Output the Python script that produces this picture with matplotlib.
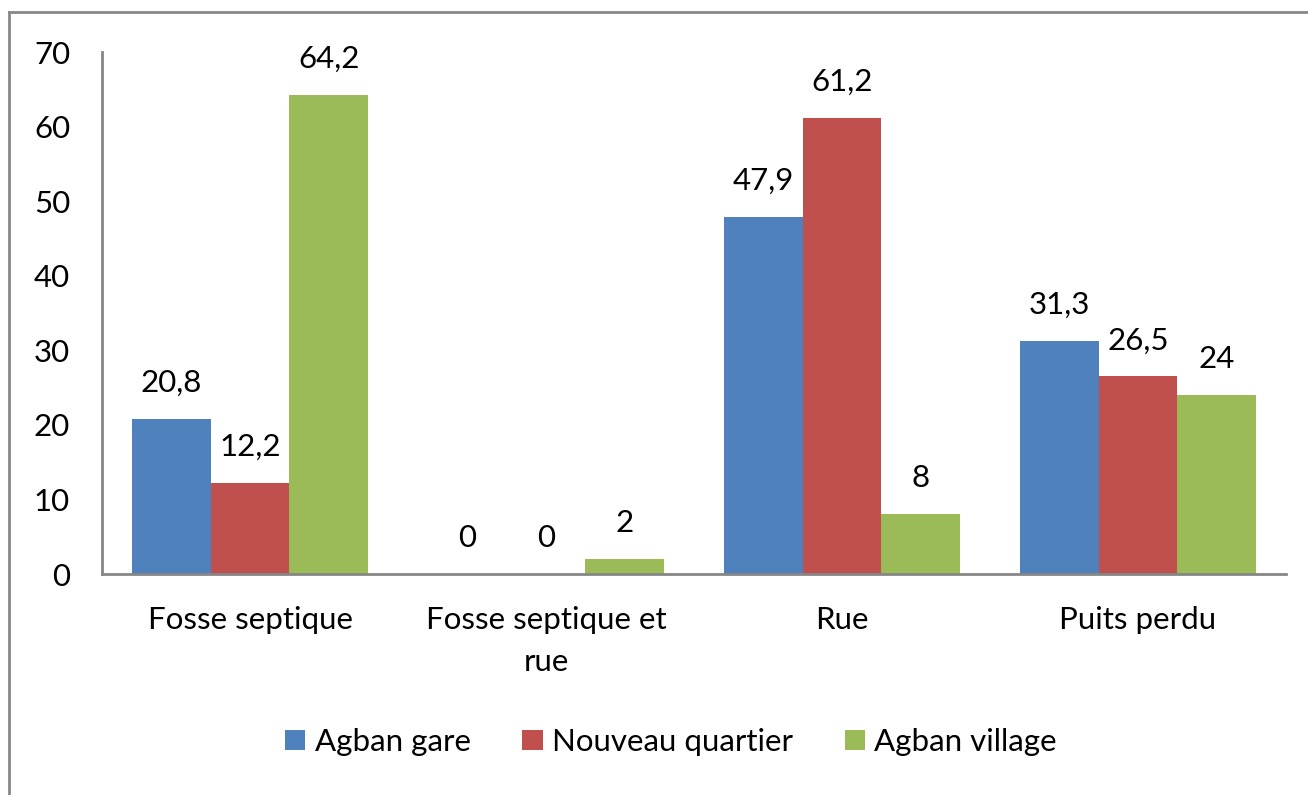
import matplotlib
matplotlib.use("Agg")
import matplotlib.pyplot as plt
from matplotlib.lines import Line2D
import numpy as np

categories = ["Fosse septique", "Fosse septique et\nrue", "Rue", "Puits perdu"]
series_names = ["Agban gare", "Nouveau quartier", "Agban village"]
agban_gare = [20.8, 0, 47.9, 31.3]
nouveau_quartier = [12.2, 0, 61.2, 26.5]
agban_village = [64.2, 2, 8, 24]
y_ticks = [0, 10, 20, 30, 40, 50, 60, 70]

colors = ["#4F81BD", "#C0504D", "#9BBB59"]
plt.rcParams['font.family'] = ['Lato', 'DejaVu Sans']
FS = 22.5

W, H = 1308, 795
fig = plt.figure(figsize=(W / 100, H / 100), dpi=100)
ax = fig.add_axes([102 / W, 1 - 574 / H, 1184 / W, 522 / H])

x = np.arange(len(categories))
bw = 0.8 / 3
all_series = [agban_gare, nouveau_quartier, agban_village]


def fmt(v):
    if float(v).is_integer():
        return str(int(v))
    return ("%.1f" % v).replace(".", ",")


for i, (vals, name) in enumerate(zip(all_series, series_names)):
    pos = x + (i - 1) * bw
    ax.bar(pos, vals, width=bw, color=colors[i], label=name, linewidth=0)
    for px, v in zip(pos, vals):
        ax.annotate(fmt(v), (px, v), xytext=(0, 19.5), textcoords="offset points",
                    ha="center", va="baseline", fontsize=FS, color="#000000")

ax.set_xlim(-0.5, len(categories) - 0.5)
ax.set_ylim(0, 70)
ax.set_yticks(y_ticks)
ax.set_yticklabels([str(t) for t in y_ticks], fontsize=FS)
ax.set_xticks(x)
ax.set_xticklabels(categories, fontsize=FS, linespacing=1.6)
ax.tick_params(axis="y", length=0, pad=23)
ax.tick_params(axis="x", length=0, pad=23)
for s in ["top", "right"]:
    ax.spines[s].set_visible(False)
for s in ["left", "bottom"]:
    ax.spines[s].set_color("#868686")
    ax.spines[s].set_linewidth(2)

fig.legend(loc="center", bbox_to_anchor=(671 / W, 1 - 742 / H), ncol=3, frameon=False,
           fontsize=FS, handlelength=0.65, handleheight=0.65, handletextpad=0.3,
           columnspacing=1.65)

# outer chart border (partially cropped)
fig.add_artist(Line2D([9 / W, 9 / W], [0, 1 - 12 / H], transform=fig.transFigure,
                      color="#888888", linewidth=2))
fig.add_artist(Line2D([9 / W, 1], [1 - 12 / H, 1 - 12 / H], transform=fig.transFigure,
                      color="#888888", linewidth=2))

fig.savefig("out.png", dpi=100)
